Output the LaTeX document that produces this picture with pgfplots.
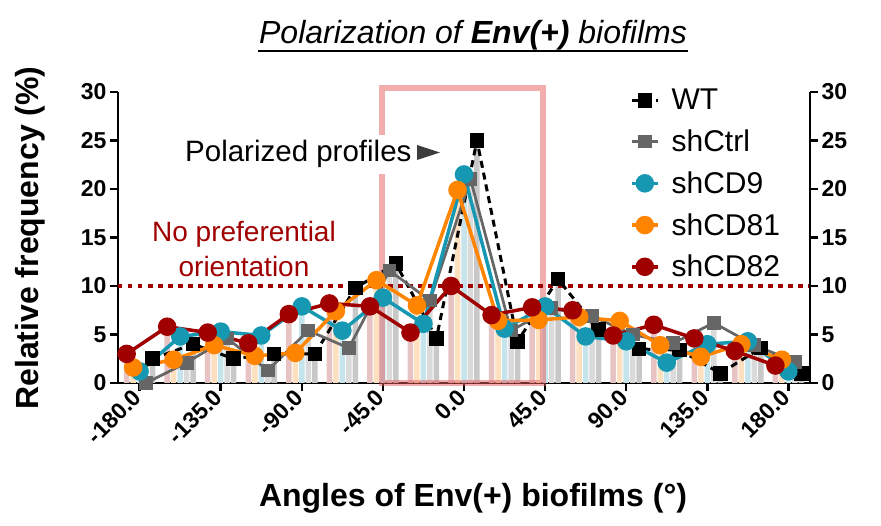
\documentclass[border=0pt]{standalone}
\usepackage{fontspec}
\setmainfont{Liberation Sans}
\usepackage{pgfplots}
\usepackage{pgfplotstable}
\pgfplotsset{compat=1.18}
\definecolor{cRed}{HTML}{A00000}
\definecolor{cOra}{HTML}{FF8400}
\definecolor{cCya}{HTML}{1798B2}
\definecolor{cGry}{HTML}{666666}
\definecolor{bRed}{HTML}{E7C3C3}
\definecolor{bOra}{HTML}{FDE0C0}
\definecolor{bCya}{HTML}{C6E4EC}
\definecolor{bGry}{HTML}{DADADA}
\definecolor{bBlk}{HTML}{C8C8C8}
\definecolor{rectc}{HTML}{E65C5C}
\definecolor{triC}{HTML}{3C3C3C}

\pgfplotstableread{
x red orange cyan gray black
-180 3.0 1.6 1.2 0.0 2.5
-157.5 5.8 2.4 4.8 2.1 4.0
-135 5.2 3.9 5.3 4.6 2.5
-112.5 4.1 2.8 4.9 1.3 3.0
-90 7.1 3.1 7.9 5.4 3.0
-67.5 8.2 7.4 5.4 3.6 9.8
-45 7.9 10.6 8.8 11.6 12.3
-22.5 5.2 8.0 6.1 8.5 4.6
0 10.0 19.9 21.5 21.0 25.0
22.5 7.0 6.4 5.6 5.4 4.3
45 7.8 6.5 7.9 7.7 10.7
67.5 7.5 6.8 4.8 6.9 5.5
90 4.9 6.4 4.3 5.0 3.5
112.5 6.0 3.9 2.1 4.1 3.4
135 4.6 2.7 4.0 6.2 1.0
157.5 3.3 4.0 4.3 3.9 3.6
180 1.8 2.4 1.2 2.2 1.0
}\data

\begin{document}
\begin{tikzpicture}
\useasboundingbox (-118pt,-143pt) rectangle (763pt,383pt);
\begin{axis}[
  at={(0pt,0pt)}, anchor=south west, scale only axis,
  width=692pt, height=291pt,
  xmin=-192, xmax=192, ymin=0, ymax=30, clip=false,
  axis x line*=bottom, axis y line*=left,
  axis line style={line width=2.5pt, black},
  tick align=outside, major tick length=8pt,
  tick style={line width=2.5pt, black},
  xtick={-180,-135,-90,-45,0,45,90,135,180},
  xticklabels={-180.0,-135.0,-90.0,-45.0,0.0,45.0,90.0,135.0,180.0},
  ytick={0,5,10,15,20,25,30},
  yticklabels={0,5,10,15,20,25,30},
  ticklabel style={font=\bfseries\fontsize{23}{23}\selectfont},
  xticklabel style={rotate=45, anchor=east},
  legend image code/.code={\draw[mark repeat=2,mark phase=2,#1] plot coordinates {(0pt,0pt) (13pt,0pt) (26pt,0pt)};},
  legend style={at={(0.740,1.016)}, anchor=north west, draw=none, fill=none,
    inner sep=0pt, outer sep=0pt,
    font=\fontsize{30}{30}\selectfont, row sep=14.5pt,
    nodes={inner sep=2pt},
    /tikz/every odd column/.append style={column sep=10pt}},
  legend cell align=left,
]
% pale bars
\addplot[ybar, bar width=5.5pt, bar shift=0pt, fill=bRed, draw=none, forget plot] table[x expr=\thisrow{x}-7.2, y=red]{\data};
\addplot[ybar, bar width=5.5pt, bar shift=0pt, fill=bOra, draw=none, forget plot] table[x expr=\thisrow{x}-3.6, y=orange]{\data};
\addplot[ybar, bar width=5.5pt, bar shift=0pt, fill=bCya, draw=none, forget plot] table[x expr=\thisrow{x}, y=cyan]{\data};
\addplot[ybar, bar width=5.5pt, bar shift=0pt, fill=bGry, draw=none, forget plot] table[x expr=\thisrow{x}+3.6, y=gray]{\data};
\addplot[ybar, bar width=5.5pt, bar shift=0pt, fill=bBlk, draw=none, forget plot] table[x expr=\thisrow{x}+7.2, y=black]{\data};
% polarized window
\draw[rectc, opacity=0.5, line width=6pt] (axis cs:-45.5,0) rectangle (axis cs:44,30.4);
% threshold
\draw[cRed, line width=4pt, dash pattern=on 4.5pt off 5.5pt] (axis cs:-192,10) -- (axis cs:192,10);
% series
\addplot[black, line width=3pt, dash pattern=on 7pt off 5pt, mark=square*, mark size=5.75pt, mark options={solid, fill=black}] table[x expr=\thisrow{x}+7.2, y=black]{\data};
\addlegendentry{WT}
\addplot[cGry, line width=2.75pt, mark=square*, mark size=5.5pt, mark options={solid, fill=cGry}] table[x expr=\thisrow{x}+3.6, y=gray]{\data};
\addlegendentry{shCtrl}
\addplot[cCya, line width=3.5pt, mark=*, mark size=7.5pt, mark options={solid, fill=cCya}] table[x expr=\thisrow{x}, y=cyan]{\data};
\addlegendentry{shCD9}
\addplot[cOra, line width=3.5pt, mark=*, mark size=7.5pt, mark options={solid, fill=cOra}] table[x expr=\thisrow{x}-3.6, y=orange]{\data};
\addlegendentry{shCD81}
\addplot[cRed, line width=3.5pt, mark=*, mark size=7.5pt, mark options={solid, fill=cRed}] table[x expr=\thisrow{x}-7.2, y=red]{\data};
\addlegendentry{shCD82}
\end{axis}
\begin{axis}[
  at={(0pt,0pt)}, anchor=south west, scale only axis,
  width=692pt, height=291pt,
  xmin=-192, xmax=192, ymin=0, ymax=30,
  axis x line=none, axis y line*=right,
  axis line style={line width=2.5pt, black},
  tick align=outside, major tick length=8pt,
  tick style={line width=2.5pt, black},
  ytick={0,5,10,15,20,25,30},
  yticklabels={0,5,10,15,20,25,30},
  yticklabel style={font=\bfseries\fontsize{23}{23}\selectfont},
]
\end{axis}
% title
\node[anchor=base, font=\itshape\fontsize{32}{38}\selectfont] at (355pt,339pt) {Polarization of \textbf{Env(+)} biofilms};
\draw[line width=2.5pt] (140pt,332pt) -- (570pt,332pt);
% axis titles
\node[rotate=90, font=\bfseries\fontsize{32}{38}\selectfont] at (-88pt,145pt) {Relative frequency (\%)};
\node[anchor=base, font=\bfseries\fontsize{32}{38}\selectfont] at (355pt,-124pt) {Angles of Env(+) biofilms (°)};
% annotations
\node[anchor=base west, fill=white, inner sep=6pt, font=\fontsize{29.5}{34}\selectfont] at (61pt,221pt) {Polarized profiles};
\fill[triC] (299pt,238pt) -- (299pt,223pt) -- (322pt,230.5pt) -- cycle;
\node[anchor=base, text=cRed, font=\fontsize{28}{34}\selectfont] at (126pt,141pt) {No preferential};
\node[anchor=base, text=cRed, font=\fontsize{28}{34}\selectfont] at (126pt,106pt) {orientation};
\end{tikzpicture}
\end{document}
